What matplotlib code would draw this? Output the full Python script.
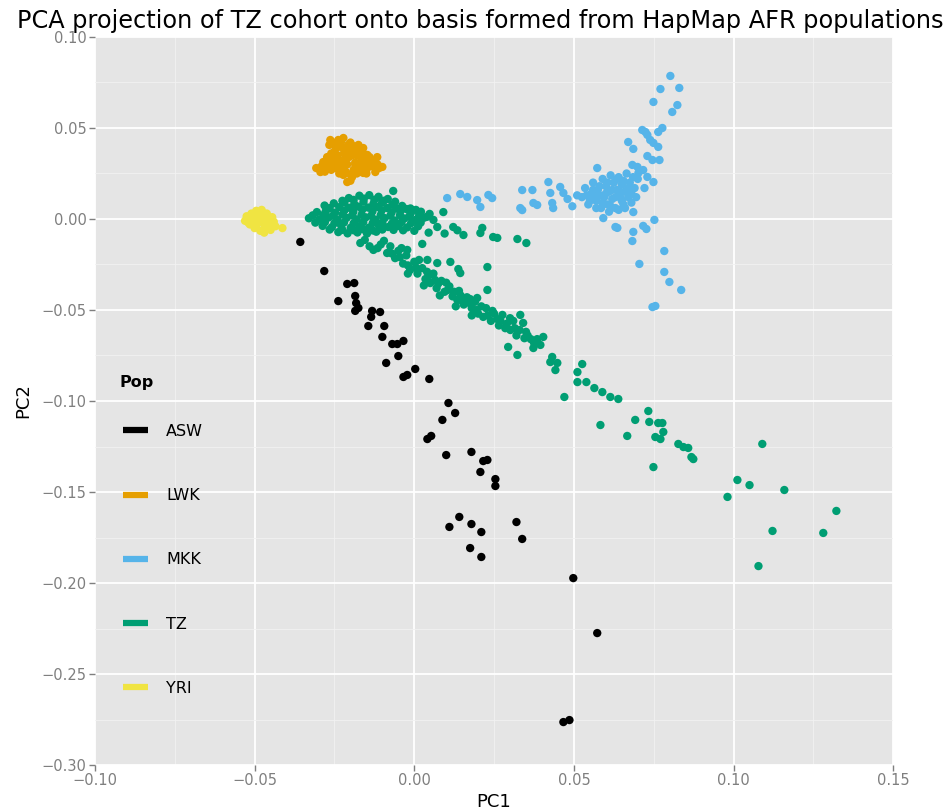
import matplotlib
matplotlib.use("Agg")
import matplotlib.pyplot as plt
from matplotlib.lines import Line2D
from matplotlib.ticker import MultipleLocator, FuncFormatter

# populations and colours (same order as the legend)
pops = ["ASW", "LWK", "MKK", "TZ", "YRI"]
colors = ["#000000", "#E69F00", "#56B4E9", "#009E73", "#F0E442"]

# values (PC1, PC2)
asw_x = [-0.0357, -0.0282, -0.0210, -0.0188, -0.0238, -0.0185, -0.0182, -0.0175, -0.0185, -0.0132,
         -0.0135, -0.0107, -0.0144, -0.0094, -0.0100, -0.0069, -0.0053, -0.0034, -0.0050, -0.0088,
         -0.0034, -0.0022, 0.0003, 0.0047, 0.0107, 0.0128, 0.0088, 0.0041, 0.0053, 0.0100,
         0.0179, 0.0216, 0.0229, 0.0207, 0.0254, 0.0254, 0.0141, 0.0110, 0.0179, 0.0210,
         0.0175, 0.0210, 0.0320, 0.0338, 0.0498, 0.0573, 0.0467, 0.0486]
asw_y = [-0.0126, -0.0286, -0.0357, -0.0352, -0.0451, -0.0423, -0.0462, -0.0489, -0.0505, -0.0505,
         -0.0538, -0.0511, -0.0588, -0.0588, -0.0648, -0.0687, -0.0687, -0.0670, -0.0753, -0.0791,
         -0.0868, -0.0857, -0.0824, -0.0879, -0.1011, -0.1066, -0.1104, -0.1209, -0.1192, -0.1297,
         -0.1280, -0.1330, -0.1324, -0.1390, -0.1429, -0.1467, -0.1637, -0.1692, -0.1676, -0.1720,
         -0.1808, -0.1857, -0.1665, -0.1758, -0.1973, -0.2275, -0.2764, -0.2753]

lwk_x = [-0.0307, -0.0294, -0.0285, -0.0273, -0.0266, -0.0263, -0.0238, -0.0222, -0.0207, -0.0175,
         -0.0160, -0.0147, -0.0116, -0.0100, -0.0122, -0.0160, -0.0210, -0.0222, -0.0263, -0.0270,
         -0.0250, -0.0250, -0.0250, -0.0240, -0.0230, -0.0225, -0.0220, -0.0215, -0.0210, -0.0205,
         -0.0200, -0.0195, -0.0190, -0.0185, -0.0180, -0.0175, -0.0170, -0.0165, -0.0150, -0.0145,
         -0.0135, -0.0130, -0.0280, -0.0235, -0.0200, -0.0190, -0.0230, -0.0255, -0.0115, -0.0160,
         -0.0240, -0.0200,
         -0.0290, -0.0275, -0.0260, -0.0245, -0.0235, -0.0215, -0.0195, -0.0185, -0.0170, -0.0155,
         -0.0140, -0.0125, -0.0110, -0.0180, -0.0170, -0.0150, -0.0245, -0.0225, -0.0210, -0.0260,
         -0.0265, -0.0200, -0.0185, -0.0160]
lwk_y = [0.0280, 0.0258, 0.0313, 0.0340, 0.0407, 0.0434, 0.0434, 0.0445, 0.0407, 0.0407,
         0.0390, 0.0352, 0.0340, 0.0286, 0.0258, 0.0253, 0.0203, 0.0242, 0.0297, 0.0280,
         0.0300, 0.0330, 0.0370, 0.0400, 0.0280, 0.0320, 0.0360, 0.0260, 0.0300, 0.0340,
         0.0380, 0.0230, 0.0270, 0.0310, 0.0350, 0.0380, 0.0290, 0.0330, 0.0270, 0.0310,
         0.0290, 0.0320, 0.0260, 0.0250, 0.0210, 0.0400, 0.0420, 0.0420, 0.0300, 0.0360,
         0.0350, 0.0245,
         0.0290, 0.0300, 0.0270, 0.0280, 0.0310, 0.0330, 0.0350, 0.0370, 0.0360, 0.0340,
         0.0340, 0.0300, 0.0280, 0.0250, 0.0260, 0.0250, 0.0390, 0.0390, 0.0375, 0.0360,
         0.0330, 0.0420, 0.0300, 0.0300]

mkk_x = [0.0802, 0.0771, 0.0830, 0.0749, 0.0824, 0.0808, 0.0714, 0.0724, 0.0730, 0.0777,
         0.0764, 0.0670, 0.0686, 0.0739, 0.0749, 0.0764, 0.0730, 0.0746, 0.0768, 0.0683,
         0.0699, 0.0717, 0.0702, 0.0730, 0.0749, 0.0721,
         0.0525, 0.0535, 0.0545, 0.0555, 0.0560, 0.0570, 0.0575, 0.0585, 0.0590, 0.0595,
         0.0600, 0.0605, 0.0610, 0.0615, 0.0620, 0.0625, 0.0630, 0.0635, 0.0640, 0.0645,
         0.0650, 0.0655, 0.0660, 0.0665, 0.0670, 0.0675, 0.0680, 0.0690, 0.0700, 0.0580,
         0.0610, 0.0550, 0.0640,
         0.0540, 0.0565, 0.0580, 0.0590, 0.0600, 0.0605, 0.0615, 0.0620, 0.0630, 0.0635,
         0.0645, 0.0650, 0.0655, 0.0660, 0.0670, 0.0680, 0.0685, 0.0695, 0.0560, 0.0570,
         0.0573, 0.0420, 0.0457, 0.0338, 0.0370, 0.0426, 0.0432, 0.0373, 0.0385, 0.0338,
         0.0435, 0.0467, 0.0480, 0.0495, 0.0510, 0.0686, 0.0592, 0.0752, 0.0630, 0.0636,
         0.0717, 0.0727, 0.0686, 0.0683, 0.0783, 0.0705, 0.0783, 0.0799, 0.0836, 0.0746,
         0.0755, 0.0103, 0.0144, 0.0166, 0.0197, 0.0207, 0.0232, 0.0244, 0.0332]
mkk_y = [0.0786, 0.0714, 0.0720, 0.0643, 0.0626, 0.0588, 0.0489, 0.0478, 0.0462, 0.0500,
         0.0478, 0.0423, 0.0385, 0.0434, 0.0418, 0.0396, 0.0346, 0.0324, 0.0324, 0.0297,
         0.0286, 0.0269, 0.0253, 0.0231, 0.0203, 0.0170,
         0.0120, 0.0170, 0.0080, 0.0140, 0.0200, 0.0100, 0.0160, 0.0060, 0.0220, 0.0120,
         0.0180, 0.0080, 0.0150, 0.0240, 0.0110, 0.0200, 0.0060, 0.0160, 0.0230, 0.0120,
         0.0190, 0.0080, 0.0150, 0.0250, 0.0120, 0.0200, 0.0090, 0.0170, 0.0220, 0.0130,
         0.0040, 0.0100, 0.0050,
         0.0130, 0.0120, 0.0180, 0.0090, 0.0140, 0.0200, 0.0070, 0.0160, 0.0120, 0.0220,
         0.0150, 0.0100, 0.0210, 0.0060, 0.0170, 0.0140, 0.0230, 0.0120, 0.0160, 0.0060,
         0.0280, 0.0203, 0.0176, 0.0159, 0.0159, 0.0143, 0.0088, 0.0088, 0.0077, 0.0049,
         0.0060, 0.0143, 0.0110, 0.0070, 0.0130, 0.0038, 0.0005, -0.0005, -0.0044, -0.0049,
         -0.0038, -0.0055, -0.0071, -0.0121, -0.0176, -0.0247, -0.0291, -0.0346, -0.0390, -0.0484,
         -0.0478, 0.0115, 0.0137, 0.0121, 0.0104, 0.0066, 0.0132, 0.0115, 0.0060]

tz_x = [-0.0205, -0.0172, -0.0141, -0.0112, -0.0083,
        -0.0281, -0.0252, -0.0219, -0.0188, -0.0159, -0.0128, -0.0101, -0.0069, -0.0038, -0.0012,
        -0.0305, -0.0277, -0.0248, -0.0219, -0.0191, -0.0163, -0.0131, -0.0102, -0.0071, -0.0043,
        -0.0011, 0.0021, 0.0048,
        -0.0330, -0.0298, -0.0269, -0.0241, -0.0212, -0.0181, -0.0152, -0.0121, -0.0093, -0.0062,
        -0.0031, 0.0002, 0.0031,
        -0.0287, -0.0258, -0.0229, -0.0199, -0.0171, -0.0142, -0.0111, -0.0082, -0.0051, -0.0022,
        0.0012,
        -0.0238, -0.0209, -0.0178, -0.0148, -0.0119,
        -0.0225, -0.0190, -0.0158, -0.0125, -0.0095, -0.0060,
        -0.0265, -0.0235, -0.0205, -0.0175, -0.0145, -0.0115, -0.0085, -0.0055, -0.0025, 0.0005,
        -0.0318, -0.0285, -0.0255, -0.0225, -0.0195, -0.0165, -0.0135, -0.0105, -0.0075, -0.0045,
        -0.0015, 0.0015, 0.0040,
        -0.0310, -0.0280, -0.0250, -0.0220, -0.0190, -0.0160, -0.0130, -0.0100, -0.0070, -0.0040,
        -0.0010, 0.0020,
        -0.0265, -0.0225, -0.0190, -0.0160, -0.0130, -0.0100, -0.0065, -0.0035,
        -0.0066, 0.0091, 0.0060, 0.0072, 0.0122, 0.0154, 0.0213, 0.0247, 0.0260, 0.0323,
        0.0351, 0.0000, 0.0045, 0.0095, 0.0135, 0.0207, 0.0025, -0.0022, 0.0041, 0.0072,
        0.0113, 0.0138, 0.0229, 0.0144, 0.0229, 0.0197,
        -0.0169, -0.0140, -0.0128, -0.0105, -0.0085, -0.0075, -0.0060, -0.0050, -0.0035, -0.0025,
        -0.0013, 0.0000, 0.0010, 0.0025, 0.0035, 0.0050, 0.0060, 0.0070, 0.0085, 0.0095,
        0.0110, 0.0120, 0.0135, 0.0140, 0.0155, 0.0165, 0.0180, 0.0190, 0.0200, 0.0216,
        0.0225, 0.0240, 0.0250, 0.0265, 0.0276, 0.0285, 0.0301, 0.0310, 0.0320, 0.0332,
        0.0341, 0.0350, 0.0365, 0.0030, 0.0080, 0.0130, 0.0180, -0.0020,
        -0.0155, -0.0115, -0.0095, -0.0070, -0.0045, -0.0040, -0.0020, 0.0005, 0.0015, 0.0040,
        0.0045, 0.0065, 0.0075, 0.0100, 0.0105, 0.0125, 0.0145, 0.0150, 0.0170, 0.0175,
        0.0195, 0.0210, 0.0230, 0.0245, 0.0260, 0.0270, 0.0290, 0.0300, 0.0315, 0.0330,
        0.0355, 0.0345, 0.0375, 0.0385,
        0.0404, 0.0395, 0.0373, 0.0323, 0.0294, 0.0432, 0.0448, 0.0442, 0.0426, 0.0470,
        0.0511, 0.0526, 0.0511, 0.0539, 0.0564, 0.0589, 0.0614, 0.0639, 0.0583, 0.0667,
        0.0692, 0.0733, 0.0736, 0.0764, 0.0777, 0.0780, 0.0755, 0.0771, 0.0749, 0.0827,
        0.0843, 0.0858, 0.0868, 0.0874, 0.1090, 0.1012, 0.0981, 0.1050, 0.1159, 0.1322,
        0.1122, 0.1281, 0.1078]
tz_y = [0.0115, 0.0128, 0.0131, 0.0122, 0.0110,
        0.0074, 0.0086, 0.0092, 0.0081, 0.0095, 0.0083, 0.0090, 0.0078, 0.0072, 0.0058,
        0.0038, 0.0044, 0.0035, 0.0047, 0.0039, 0.0051, 0.0042, 0.0048, 0.0036, 0.0044,
        0.0031, 0.0040, 0.0028,
        0.0004, -0.0003, 0.0008, -0.0005, 0.0006, -0.0002, 0.0009, -0.0004, 0.0005, -0.0008,
        0.0003, -0.0006, 0.0007,
        -0.0038, -0.0045, -0.0036, -0.0048, -0.0040, -0.0047, -0.0035, -0.0044, -0.0039, -0.0046,
        -0.0040,
        -0.0072, -0.0079, -0.0074, -0.0080, -0.0070,
        0.0100, 0.0105, 0.0112, 0.0106, 0.0100, 0.0095,
        0.0060, 0.0065, 0.0062, 0.0068, 0.0063, 0.0066, 0.0060, 0.0057, 0.0055, 0.0050,
        0.0020, 0.0022, 0.0018, 0.0024, 0.0019, 0.0023, 0.0017, 0.0022, 0.0018, 0.0021,
        0.0016, 0.0019, 0.0012,
        -0.0020, -0.0018, -0.0023, -0.0019, -0.0024, -0.0017, -0.0022, -0.0020, -0.0025, -0.0018,
        -0.0023, -0.0020,
        -0.0058, -0.0060, -0.0062, -0.0057, -0.0063, -0.0058, -0.0060, -0.0062,
        0.0154, 0.0038, -0.0005, -0.0044, -0.0044, -0.0088, -0.0049, -0.0099, -0.0104, -0.0110,
        -0.0132, -0.0065, -0.0075, -0.0080, -0.0062, -0.0077, -0.0137, -0.0170, -0.0225, -0.0242,
        -0.0236, -0.0275, -0.0264, -0.0297, -0.0390, -0.0434,
        -0.0132, -0.0150, -0.0170, -0.0140, -0.0187, -0.0150, -0.0215, -0.0175, -0.0245, -0.0200,
        -0.0280, -0.0235, -0.0300, -0.0270, -0.0330, -0.0352, -0.0300, -0.0380, -0.0340, -0.0400,
        -0.0370, -0.0425, -0.0445, -0.0395, -0.0470, -0.0430, -0.0490, -0.0455, -0.0520, -0.0538,
        -0.0490, -0.0560, -0.0520, -0.0585, -0.0527, -0.0600, -0.0610, -0.0560, -0.0640, -0.0527,
        -0.0571, -0.0620, -0.0660, -0.0365, -0.0420, -0.0480, -0.0530, -0.0300,
        -0.0115, -0.0160, -0.0120, -0.0190, -0.0210, -0.0160, -0.0255, -0.0265, -0.0225, -0.0290,
        -0.0310, -0.0335, -0.0355, -0.0350, -0.0390, -0.0400, -0.0420, -0.0450, -0.0460, -0.0440,
        -0.0500, -0.0480, -0.0530, -0.0505, -0.0550, -0.0560, -0.0575, -0.0545, -0.0600, -0.0610,
        -0.0640, -0.0655, -0.0680, -0.0660,
        -0.0648, -0.0692, -0.0709, -0.0747, -0.0703, -0.0758, -0.0791, -0.0830, -0.0786, -0.0978,
        -0.0841, -0.0797, -0.0896, -0.0896, -0.0929, -0.0951, -0.0978, -0.0989, -0.1132, -0.1192,
        -0.1104, -0.1055, -0.1115, -0.1121, -0.1121, -0.1170, -0.1198, -0.1209, -0.1363, -0.1236,
        -0.1253, -0.1258, -0.1308, -0.1319, -0.1236, -0.1434, -0.1527, -0.1462, -0.1489, -0.1604,
        -0.1714, -0.1725, -0.1907]

yri_x = [-0.0530, -0.0525, -0.0515, -0.0510, -0.0505, -0.0500, -0.0495, -0.0490, -0.0488, -0.0482,
         -0.0478, -0.0475, -0.0472, -0.0468, -0.0462, -0.0458, -0.0455, -0.0450, -0.0445, -0.0440,
         -0.0435, -0.0413, -0.0470, -0.0500, -0.0485, -0.0520, -0.0510, -0.0480, -0.0465, -0.0495,
         -0.0460]
yri_y = [-0.0010, 0.0015, -0.0030, 0.0030, 0.0000, -0.0050, 0.0045, 0.0015, -0.0020, -0.0065,
         0.0050, 0.0025, -0.0005, -0.0040, 0.0030, 0.0000, -0.0030, -0.0060, 0.0010, -0.0015,
         -0.0040, -0.0050, -0.0075, 0.0020, 0.0035, -0.0020, 0.0010, 0.0000, 0.0010, -0.0035,
         -0.0055]

series = [(asw_x, asw_y), (lwk_x, lwk_y), (mkk_x, mkk_y), (tz_x, tz_y), (yri_x, yri_y)]

fig = plt.figure(figsize=(9.48, 8.11), dpi=100)
ax = fig.add_axes([0.1002, 0.0567, 0.842, 0.8977])
ax.set_facecolor("#E5E5E5")

for (xs, ys), c in zip(series, colors):
    ax.scatter(xs, ys, s=36, color=c, edgecolors="none", zorder=3)

ax.set_xlim(-0.10, 0.15)
ax.set_ylim(-0.30, 0.10)
ax.xaxis.set_major_locator(MultipleLocator(0.05))
ax.xaxis.set_minor_locator(MultipleLocator(0.025))
ax.yaxis.set_major_locator(MultipleLocator(0.05))
ax.yaxis.set_minor_locator(MultipleLocator(0.025))

fmt = FuncFormatter(lambda v, p: f"{round(v, 3):.2f}".replace("-", "\u2212"))
ax.xaxis.set_major_formatter(fmt)
ax.yaxis.set_major_formatter(fmt)

ax.grid(which="major", color="white", linewidth=1.3)
ax.grid(which="minor", color="#F2F2F2", linewidth=0.6)
ax.set_axisbelow(True)
for sp in ax.spines.values():
    sp.set_visible(False)
ax.tick_params(which="major", direction="out", length=4, width=1, color="#7F7F7F",
               labelcolor="#7F7F7F", labelsize=10.5, pad=2)
ax.tick_params(which="minor", length=0)

fig.text(0.5063, 0.9745, "PCA projection of TZ cohort onto basis formed from HapMap AFR populations",
         fontsize=17.3, ha="center", va="center")
ax.set_xlabel("PC1", fontsize=13, labelpad=3)
ax.set_ylabel("PC2", fontsize=13, labelpad=7)

# legend inside the panel, ggplot style
ax.text(0.031, 0.526, "Pop", transform=ax.transAxes, fontsize=11.5, fontweight="bold",
        va="center", ha="left")
handles = [Line2D([0], [0], color=c, lw=4.5, solid_capstyle="butt") for c in colors]
ax.legend(handles, pops, loc="upper left", bbox_to_anchor=(0.035, 0.4684), frameon=False,
          handlelength=1.6, handletextpad=1.1, labelspacing=3.08, fontsize=11.5,
          borderpad=0, borderaxespad=0)

fig.savefig("out.png", dpi=100)
